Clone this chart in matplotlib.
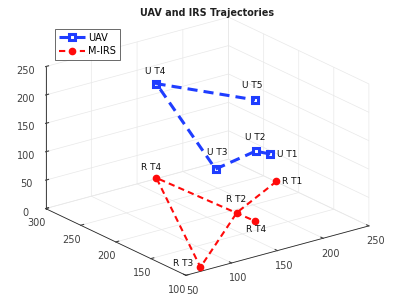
import numpy as np
import matplotlib
matplotlib.use("Agg")
import matplotlib.pyplot as plt
from mpl_toolkits.mplot3d import proj3d

# UAV waypoints (x, y, z)
uav_x = [205, 199, 189, 148, 193]
uav_y = [182, 195, 239, 270, 188]
uav_z = [98, 98, 45, 195, 195]
uav_labels = ["U T1", "U T2", "U T3", "U T4", "U T5"]

# M-IRS waypoints
irs_x = [234, 161, 72, 158, 161]
irs_y = [211, 172, 108, 283, 147]
irs_z = [20, 20, 0, 17, 20]
irs_labels = ["R T1", "R T2", "R T3", "R T4", "R T4"]

# label offsets in pixels (dx, dy, ha, va)
uav_offsets = [(7, 0, "left", "center"), (0, 9, "center", "bottom"), (2, 12, "center", "bottom"),
               (-1, 8, "center", "bottom"), (-3, 10, "center", "bottom")]
irs_offsets = [(6, 0, "left", "center"), (-1, 9, "center", "bottom"), (-7, 4, "right", "center"),
               (-5, 6, "center", "bottom"), (2, -4, "center", "top")]

blue = "#1f3dff"
red = "#ff0a0a"

fig = plt.figure(figsize=(4.15, 3.01), dpi=100)
ax = fig.add_axes([0.0663, -0.083, 0.8434, 1.1628], projection="3d", proj_type="ortho")
ax.view_init(elev=21, azim=-127)
ax.set_box_aspect((226, 230, 150), zoom=1.0)

ax.plot(uav_x, uav_y, uav_z, color=blue, lw=2.2, marker="s", ms=4,
        mfc="none", mec=blue, mew=2.2, label="UAV", dashes=(3.3, 2))
ax.plot(irs_x, irs_y, irs_z, color=red, lw=1.5, marker="o", ms=4.5,
        mfc=red, mec=red, label="M-IRS", dashes=(3, 2))

ax.set_xlim(50, 250)
ax.set_ylim(100, 300)
ax.set_zlim(0, 250)
ax.set_xticks([50, 100, 150, 200, 250])
ax.set_yticks([100, 150, 200, 250, 300])
ax.set_zticks([0, 50, 100, 150, 200, 250])

for axis in (ax.xaxis, ax.yaxis, ax.zaxis):
    axis.set_pane_color((1, 1, 1, 0))
    axis.pane.set_edgecolor("#e8e8e8")
    axis.line.set_color("#262626")
    axis.line.set_linewidth(0.6)
    axis._axinfo["grid"]["color"] = "#e8e8e8"
    axis._axinfo["grid"]["linewidth"] = 0.5
    axis._axinfo["tick"]["inward_factor"] = 0.0
    axis._axinfo["tick"]["outward_factor"] = 0.2
ax.tick_params(labelsize=7, colors="#404040", pad=0)
ax.tick_params(axis="x", pad=-1.5)
ax.tick_params(axis="y", pad=-1.5)

# place labels in screen space next to each point
fig.canvas.draw()
M = ax.get_proj()
for xs, ys, zs, labs, offs in [(uav_x, uav_y, uav_z, uav_labels, uav_offsets),
                               (irs_x, irs_y, irs_z, irs_labels, irs_offsets)]:
    for x, y, z, s, (dx, dy, ha, va) in zip(xs, ys, zs, labs, offs):
        px, py, _ = proj3d.proj_transform(x, y, z, M)
        ax.annotate(s, xy=(px, py), xycoords="data", xytext=(dx * 0.72, dy * 0.72),
                    textcoords="offset points", ha=ha, va=va, fontsize=6.5, color="#111111")

fig.text(0.5, 1 - 13 / 301, "UAV and IRS Trajectories", fontsize=6.9, fontweight="bold",
         ha="center", va="center", color="#202020")
leg = ax.legend(loc="upper left", bbox_to_anchor=(55 / 415, 1 - 29 / 301),
                bbox_transform=fig.transFigure, fontsize=7, frameon=True, numpoints=1,
                fancybox=False, edgecolor="#262626", handlelength=2.7, borderpad=0.4,
                labelspacing=0.35, handletextpad=0.3, borderaxespad=0)
leg.get_frame().set_linewidth(0.6)

fig.savefig("out.png", dpi=100)
